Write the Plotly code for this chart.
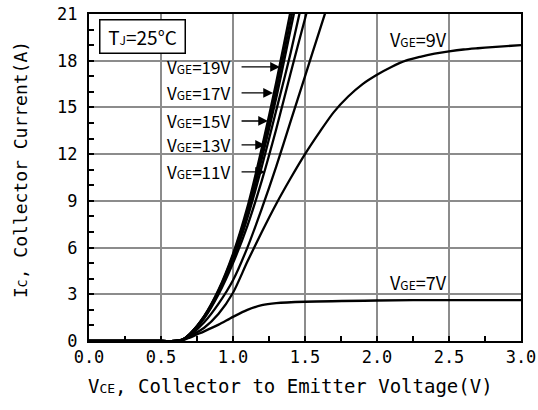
import plotly.graph_objects as go

# ---------------- data ----------------
x_steep = [0.0, 0.5, 0.6, 0.65, 0.7, 0.8, 0.9, 1.0, 1.1, 1.2, 1.3, 1.4, 1.5, 1.6]
ic_19v = [0, 0, 0, 0.1, 0.45, 1.6, 3.3, 5.6, 8.6, 12.4, 16.6, 21.2, 25.8, 30.0]
ic_17v = [0, 0, 0, 0.1, 0.45, 1.6, 3.25, 5.5, 8.4, 12.0, 16.1, 20.6, 25.0, 29.0]
ic_15v = [0, 0, 0, 0.1, 0.45, 1.55, 3.2, 5.4, 8.2, 11.7, 15.6, 20.0, 24.4, 28.5]
ic_13v = [0, 0, 0, 0.1, 0.45, 1.5, 3.1, 5.2, 7.9, 11.2, 14.8, 18.5, 22.6, 26.5]
ic_11v = [0, 0, 0, 0.1, 0.4, 1.45, 3.0, 5.0, 7.4, 10.3, 13.6, 17.2, 20.7, 24.2]

x_mid = [0.0, 0.5, 0.6, 0.65, 0.7, 0.8, 0.9, 1.0, 1.1, 1.2, 1.3, 1.4, 1.5, 1.6, 1.7]
ic_mid = [0, 0, 0, 0.08, 0.35, 1.2, 2.4, 3.9, 6.0, 8.5, 11.2, 14.1, 17.0, 19.9, 22.8]

x_9v = [0.0, 0.5, 0.6, 0.65, 0.7, 0.8, 0.9, 1.0, 1.1, 1.2, 1.3, 1.4, 1.5, 1.6, 1.7,
        1.8, 1.9, 2.0, 2.1, 2.2, 2.3, 2.4, 2.5, 2.6, 2.7, 2.8, 2.9, 3.0]
ic_9v = [0, 0, 0, 0.05, 0.3, 0.85, 1.75, 3.1, 5.1, 7.0, 8.8, 10.45, 12.0, 13.4, 14.7,
         15.7, 16.5, 17.1, 17.6, 18.0, 18.25, 18.45, 18.6, 18.72, 18.8, 18.87, 18.94, 19.0]

x_7v = [0.0, 0.5, 0.6, 0.65, 0.7, 0.75, 0.8, 0.9, 1.0, 1.1, 1.2, 1.3, 1.5, 2.0, 2.5, 3.0]
ic_7v = [0, 0, 0, 0.05, 0.22, 0.42, 0.62, 1.05, 1.55, 2.0, 2.3, 2.43, 2.52, 2.6, 2.63, 2.63]

x_ticks = [0.0, 0.5, 1.0, 1.5, 2.0, 2.5, 3.0]
x_tick_labels = ["0.0", "0.5", "1.0", "1.5", "2.0", "2.5", "3.0"]
y_ticks = [0, 3, 6, 9, 12, 15, 18, 21]
y_tick_labels = ["0", "3", "6", "9", "12", "15", "18", "21"]

arrow_labels = ["19V", "17V", "15V", "13V", "11V"]
arrow_tip_x = [1.326, 1.278, 1.243, 1.222, 1.222]
arrow_y = [17.6, 15.93, 14.13, 12.59, 10.86]

# ---------------- figure ----------------
MONO = "DejaVu Sans Mono"
SANS = "Noto Sans CJK SC"
fig = go.Figure()

series = [
    ("VGE=19V", x_steep, ic_19v),
    ("VGE=17V", x_steep, ic_17v),
    ("VGE=15V", x_steep, ic_15v),
    ("VGE=13V", x_steep, ic_13v),
    ("VGE=11V", x_steep, ic_11v),
    ("VGE (unlabelled)", x_mid, ic_mid),
    ("VGE=9V", x_9v, ic_9v),
    ("VGE=7V", x_7v, ic_7v),
]
for name, xs, ys in series:
    fig.add_trace(go.Scatter(x=xs, y=ys, mode="lines", name=name,
                             line=dict(color="black", width=2.3, shape="spline", smoothing=0.8),
                             showlegend=False))


def small(t, size=12):
    return '<span style="font-size:%dpx">%s</span>' % (size, t)


annotations = []
for lab, tx, ty in zip(arrow_labels, arrow_tip_x, arrow_y):
    annotations.append(dict(
        x=tx, y=ty, xref="x", yref="y", ax=1.049, ay=ty, axref="x", ayref="y",
        showarrow=True, arrowhead=2, arrowsize=1.5, arrowwidth=1.3, arrowcolor="black",
        text=""))
    annotations.append(dict(
        x=0.993, y=ty, xref="x", yref="y", xanchor="right", yanchor="middle",
        showarrow=False, text="V" + small("GE") + "=" + lab,
        font=dict(family=SANS, size=17, color="black")))

annotations.append(dict(x=(142.5 - 89) / 432, y=(341 - 36.5) / 327, xref="paper", yref="paper",
                        xanchor="center", yanchor="middle", showarrow=False,
                        text="T" + small("J") + "=25°C",
                        font=dict(family=SANS, size=19, color="black"),
                        bordercolor="black", borderwidth=1.5, borderpad=3,
                        bgcolor="white", width=78, height=26))
annotations.append(dict(x=2.288, y=19.4, xref="x", yref="y", xanchor="center", yanchor="middle",
                        showarrow=False, text="V" + small("GE") + "=9V",
                        font=dict(family=SANS, size=18, color="black")))
annotations.append(dict(x=2.29, y=3.79, xref="x", yref="y", xanchor="center", yanchor="middle",
                        showarrow=False, text="V" + small("GE") + "=7V",
                        font=dict(family=SANS, size=18, color="black")))
# axis titles
annotations.append(dict(x=(290 - 89) / 432, y=(341 - 386) / 327, xref="paper", yref="paper",
                        xanchor="center", yanchor="middle", showarrow=False,
                        text="V" + small("CE", 13) + ", Collector to Emitter Voltage(V)",
                        font=dict(family=MONO, size=19, color="black")))
annotations.append(dict(x=(20 - 89) / 432, y=(341 - 170) / 327, xref="paper", yref="paper",
                        xanchor="center", yanchor="middle", showarrow=False, textangle=-90,
                        text="I" + small("C", 13) + ", Collector Current(A)",
                        font=dict(family=MONO, size=18, color="black")))

fig.update_layout(
    width=538, height=410, autosize=False,
    margin=dict(l=89, r=17, t=14, b=69),
    paper_bgcolor="white", plot_bgcolor="white",
    annotations=annotations,
    font=dict(family=MONO, color="black"),
)

fig.update_xaxes(
    range=[0, 3], tickmode="array", tickvals=x_ticks, ticktext=x_tick_labels,
    tickfont=dict(family=MONO, size=17, color="black"),
    showgrid=True, gridcolor="#8c8c8c", gridwidth=1.5,
    showline=True, linecolor="black", linewidth=2, mirror=True,
    ticks="inside", ticklen=5, tickcolor="black", tickwidth=1.5,
    minor=dict(tickmode="array", tickvals=[0.25, 0.75, 1.25, 1.75, 2.25, 2.75],
               ticks="inside", ticklen=5, tickcolor="black", tickwidth=1.5, showgrid=False),
    zeroline=False, ticklabelstandoff=0, automargin=False,
)
fig.update_yaxes(
    range=[0, 21], tickmode="array", tickvals=y_ticks, ticktext=y_tick_labels,
    tickfont=dict(family=MONO, size=17, color="black"),
    showgrid=True, gridcolor="#8c8c8c", gridwidth=1.5,
    showline=True, linecolor="black", linewidth=2, mirror=True,
    ticks="inside", ticklen=5, tickcolor="black", tickwidth=1.5,
    minor=dict(tickmode="array", tickvals=[1, 2, 4, 5, 7, 8, 10, 11, 13, 14, 16, 17, 19, 20],
               ticks="inside", ticklen=5, tickcolor="black", tickwidth=1.5, showgrid=False),
    zeroline=False, ticklabelstandoff=6, automargin=False,
)

fig.write_html("out.html",
               config={"responsive": False, "displayModeBar": False},
               post_script="document.body.style.margin='0';document.body.style.overflow='hidden';")
